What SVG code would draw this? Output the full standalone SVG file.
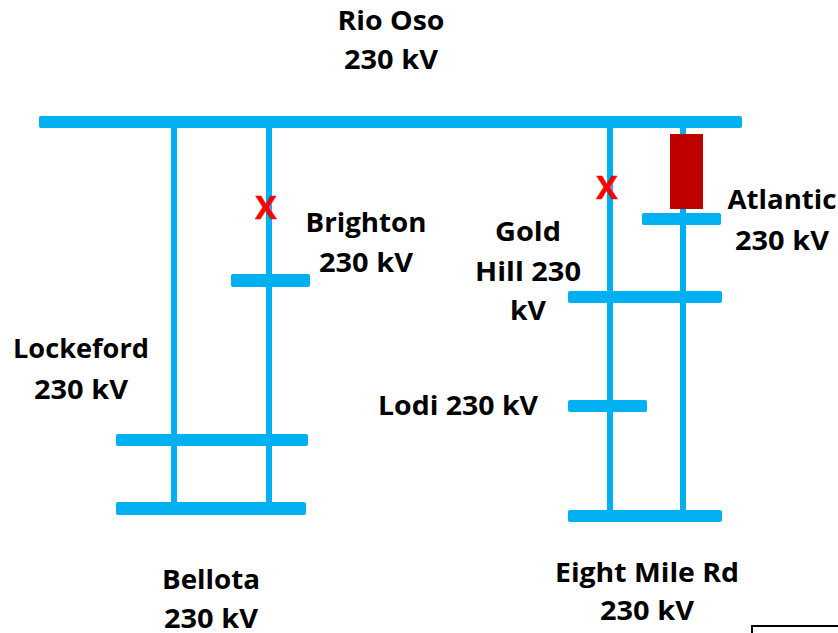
<svg xmlns="http://www.w3.org/2000/svg" width="838" height="633" viewBox="0 0 838 633">
<style>
.bus{fill:#00b0f0}
.line{stroke:#00b0f0;stroke-width:6;fill:none}
text{font-family:"Open Sans","Liberation Sans",sans-serif;font-weight:700;font-size:27.5px;fill:#000;text-anchor:middle}
.x{fill:#f00;font-size:32px;stroke:#f00;stroke-width:.5}
</style>
<rect width="838" height="633" fill="#fff"/>
<g id="connectors">
<path class="line" d="M174 122V508"/>
<path class="line" d="M269 122V508"/>
<path class="line" d="M610 122V516"/>
<path class="line" d="M683 122V516"/>
</g>
<g id="rio-oso"><rect class="bus" x="39" y="116" width="703" height="12" rx="2"/>
<text x="391" y="30" textLength="107" lengthAdjust="spacingAndGlyphs">Rio Oso</text><text x="391" y="69" textLength="94" lengthAdjust="spacingAndGlyphs">230 kV</text></g>
<g id="brighton"><rect class="bus" x="231" y="274" width="79" height="13" rx="2"/>
<text x="366" y="232" textLength="121" lengthAdjust="spacingAndGlyphs">Brighton</text><text x="366" y="272" textLength="94" lengthAdjust="spacingAndGlyphs">230 kV</text></g>
<g id="lockeford"><rect class="bus" x="116" y="434" width="192" height="12" rx="2"/>
<text x="81" y="358" textLength="136" lengthAdjust="spacingAndGlyphs">Lockeford</text><text x="81" y="399" textLength="94" lengthAdjust="spacingAndGlyphs">230 kV</text></g>
<g id="bellota"><rect class="bus" x="116" y="502" width="190" height="13" rx="2"/>
<text x="211" y="589" textLength="98" lengthAdjust="spacingAndGlyphs">Bellota</text><text x="211" y="628" textLength="94" lengthAdjust="spacingAndGlyphs">230 kV</text></g>
<g id="atlantic"><rect class="bus" x="642" y="213" width="79" height="12" rx="2"/>
<text x="782" y="209" textLength="109" lengthAdjust="spacingAndGlyphs">Atlantic</text><text x="782" y="250" textLength="94" lengthAdjust="spacingAndGlyphs">230 kV</text></g>
<g id="gold-hill"><rect class="bus" x="568" y="291" width="154" height="12" rx="2"/>
<text x="528" y="241" textLength="66" lengthAdjust="spacingAndGlyphs">Gold</text><text x="528" y="281" textLength="106" lengthAdjust="spacingAndGlyphs">Hill 230</text><text x="528" y="320" textLength="36" lengthAdjust="spacingAndGlyphs">kV</text></g>
<g id="lodi"><rect class="bus" x="568" y="400" width="79" height="12" rx="2"/>
<text x="458" y="415" textLength="160" lengthAdjust="spacingAndGlyphs">Lodi 230 kV</text></g>
<g id="eight-mile"><rect class="bus" x="568" y="510" width="154" height="12" rx="2"/>
<text x="647" y="582" textLength="184" lengthAdjust="spacingAndGlyphs">Eight Mile Rd</text><text x="647" y="620" textLength="94" lengthAdjust="spacingAndGlyphs">230 kV</text></g>
<g id="device"><rect x="670" y="134" width="33" height="75" fill="#c00000"/></g>
<g id="open-brighton"><text class="x" x="266" y="219">X</text></g>
<g id="open-gold-hill"><text class="x" x="607" y="199">X</text></g>
<path d="M752 633V626H838" fill="none" stroke="#000" stroke-width="2"/>
</svg>
